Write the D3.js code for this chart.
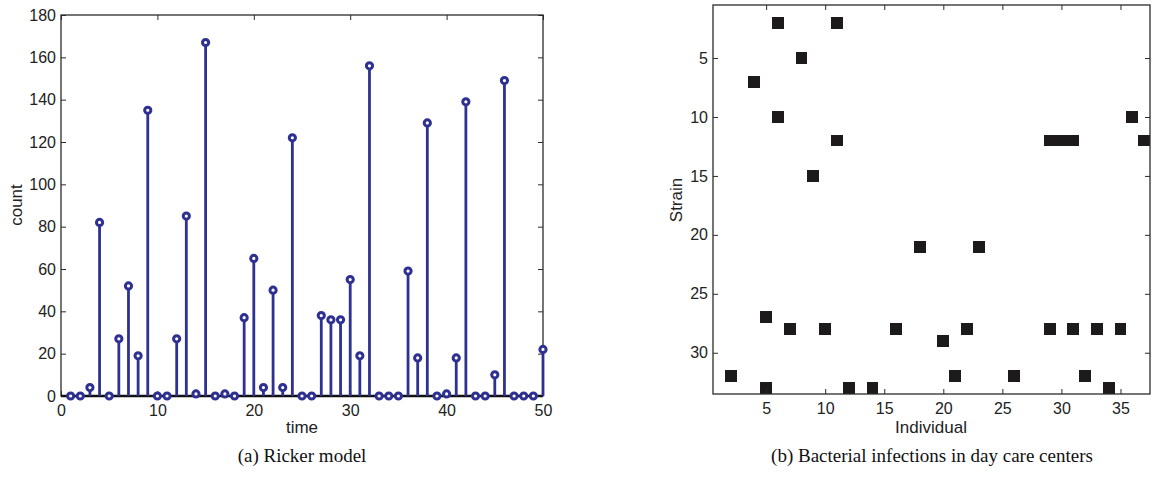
<!DOCTYPE html>
<html><head><meta charset="utf-8">
<script src="https://cdn.jsdelivr.net/npm/d3@7"></script>
<style>
body{margin:0;background:#fff;}
text{font-family:"Liberation Sans",Arial,sans-serif;}
text.cap{font-family:"Liberation Serif","Times New Roman",serif;}
</style></head>
<body>
<svg id="c" width="1152" height="477"></svg>
<script>
// ---- Data: (a) Ricker model ----
const rickerTime = d3.range(1, 51);
const rickerCount = [0,0,4,82,0,27,52,19,135,0, 0,27,85,1,167,0,1,0,37,65,
  4,50,4,122,0,0,38,36,36,55, 19,156,0,0,0,59,18,129,0,1, 18,139,0,0,10,149,0,0,0,22];
const rickerYTicks = [0,20,40,60,80,100,120,140,160,180];
const rickerXTicks = [0,10,20,30,40,50];

// ---- Data: (b) Bacterial infections ----
const infIndividual = [6,11,8,4,6,11,9,5,7,10,16,2,5,12,14,18,23,20,22,21,26,29,30,31,29,31,33,35,32,34,36,37];
const infStrain     = [2,2,5,7,10,12,15,27,28,28,28,32,33,33,33,21,21,29,28,32,32,12,12,12,28,28,28,28,32,33,10,12];
const infXTicks = [5,10,15,20,25,30,35];
const infYTicks = [5,10,15,20,25,30];

const svg = d3.select("#c");
const frame = "#2b2b2b";
const blue = "#2e3192";

function styleAxis(gg){
  gg.select(".domain").remove();
  gg.selectAll("line").attr("stroke",frame);
  gg.selectAll("text").attr("font-size",16).attr("fill","#222");
}

// ===== Chart (a) =====
{
  const L=61, R=543, T=15, B=396;
  const x = d3.scaleLinear().domain([0,50]).range([L,R]);
  const y = d3.scaleLinear().domain([0,180]).range([B,T]);
  const g = svg.append("g");
  g.append("rect").attr("x",L).attr("y",T).attr("width",R-L).attr("height",B-T)
    .attr("fill","none").attr("stroke",frame).attr("stroke-width",1.3);
  const axB = d3.axisBottom(x).tickValues(rickerXTicks).tickSize(-5).tickPadding(9);
  const axL = d3.axisLeft(y).tickValues(rickerYTicks).tickSize(-5).tickPadding(5);
  const axT = d3.axisTop(x).tickValues(rickerXTicks).tickSize(-5).tickFormat("");
  const axR = d3.axisRight(y).tickValues(rickerYTicks).tickSize(-5).tickFormat("");
  [[axB,`translate(0,${B})`],[axL,`translate(${L},0)`],[axT,`translate(0,${T})`],[axR,`translate(${R},0)`]]
   .forEach(([a,t])=> styleAxis(g.append("g").attr("transform",t).call(a)));
  g.append("line").attr("x1",L).attr("x2",R).attr("y1",y(0)).attr("y2",y(0))
    .attr("stroke","#111").attr("stroke-width",2.4);
  g.selectAll(".stem").data(rickerTime).enter().append("line")
    .attr("x1",d=>x(d)).attr("x2",d=>x(d))
    .attr("y1",y(0)).attr("y2",(d,i)=>y(rickerCount[i]))
    .attr("stroke",blue).attr("stroke-width",2.8);
  g.selectAll(".mk").data(rickerTime).enter().append("circle")
    .attr("cx",d=>x(d)).attr("cy",(d,i)=>y(rickerCount[i])).attr("r",3.1)
    .attr("fill","#fff").attr("stroke",blue).attr("stroke-width",3);
  g.append("text").attr("x",(L+R)/2).attr("y",433).attr("text-anchor","middle")
    .attr("font-size",17).attr("fill","#222").text("time");
  g.append("text").attr("transform",`translate(22,205) rotate(-90)`).attr("text-anchor","middle")
    .attr("font-size",17).attr("fill","#222").text("count");
  g.append("text").attr("class","cap").attr("x",302).attr("y",462).attr("text-anchor","middle")
    .attr("font-size",19).attr("fill","#111").text("(a) Ricker model");
}

// ===== Chart (b) =====
{
  const L=713, R=1150, T=5, B=394;
  const x = d3.scaleLinear().domain([0.5,37.5]).range([L,R]);
  const y = d3.scaleLinear().domain([0.5,33.5]).range([T,B]);
  const g = svg.append("g");
  g.append("clipPath").attr("id","clipb").append("rect")
    .attr("x",L).attr("y",T).attr("width",R-L).attr("height",B-T);
  g.append("g").attr("clip-path","url(#clipb)").selectAll("rect")
    .data(infIndividual).enter().append("rect")
    .attr("x",d=>x(d-0.5)).attr("width",d=>x(d+0.5)-x(d-0.5))
    .attr("y",(d,i)=>y(infStrain[i]-0.5)).attr("height",(d,i)=>y(infStrain[i]+0.5)-y(infStrain[i]-0.5))
    .attr("fill","#1c1a1b").attr("shape-rendering","crispEdges");
  g.append("rect").attr("x",L).attr("y",T).attr("width",R-L).attr("height",B-T)
    .attr("fill","none").attr("stroke",frame).attr("stroke-width",1.3);
  const axB = d3.axisBottom(x).tickValues(infXTicks).tickSize(-5).tickPadding(9);
  const axL = d3.axisLeft(y).tickValues(infYTicks).tickSize(-5).tickPadding(5);
  const axT = d3.axisTop(x).tickValues(infXTicks).tickSize(-5).tickFormat("");
  const axR = d3.axisRight(y).tickValues(infYTicks).tickSize(-5).tickFormat("");
  [[axB,`translate(0,${B})`],[axL,`translate(${L},0)`],[axT,`translate(0,${T})`],[axR,`translate(${R},0)`]]
   .forEach(([a,t])=> styleAxis(g.append("g").attr("transform",t).call(a)));
  g.append("text").attr("x",931).attr("y",433).attr("text-anchor","middle")
    .attr("font-size",17).attr("fill","#222").text("Individual");
  g.append("text").attr("transform",`translate(682,200) rotate(-90)`).attr("text-anchor","middle")
    .attr("font-size",17).attr("fill","#222").text("Strain");
  g.append("text").attr("class","cap").attr("x",932).attr("y",462).attr("text-anchor","middle")
    .attr("font-size",19).attr("fill","#111").text("(b) Bacterial infections in day care centers");
}
</script>
</body></html>
